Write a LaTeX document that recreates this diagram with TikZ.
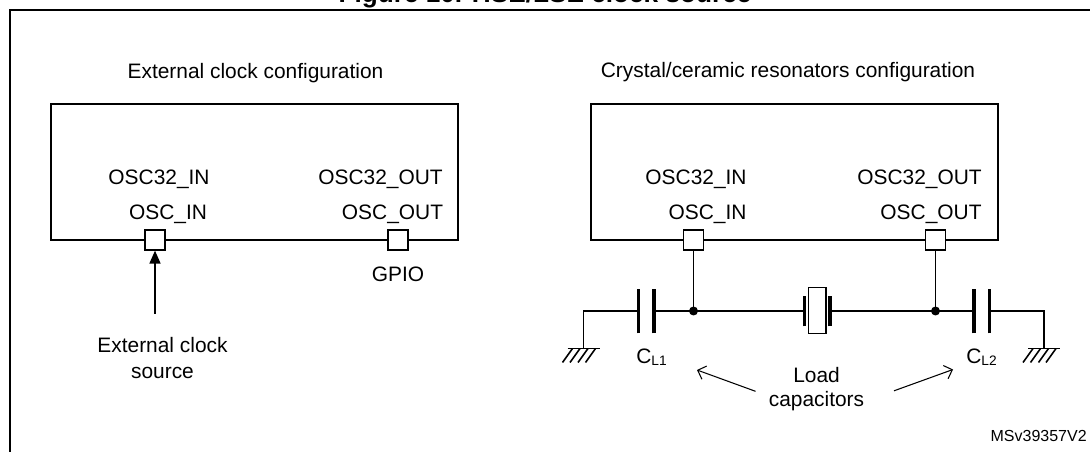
\documentclass[tikz,border=0pt]{standalone}
\usepackage{fontspec}
\setmainfont{Liberation Sans}
\usepackage{xcolor}
\usetikzlibrary{arrows.meta, positioning}

\begin{document}
\begin{tikzpicture}[>=Stealth,
    chip/.style={draw, line width=1.2pt, minimum width=8.14cm, minimum height=2.72cm, inner sep=0},
    padbox/.style={draw, fill=white, line width=0.7pt, minimum size=0.4cm, inner sep=0},
    wire/.style={line width=0.9pt},
    plate/.style={line width=1.8pt},
    lbl/.style={font=\fontsize{11.9}{14.8}\selectfont, inner sep=0}]
        \useasboundingbox (0,0) rectangle (21.8,9.04);
        
        % Frame and (cut) title
        \begin{scope}
            \clip (0,0) rectangle (21.8,9.04);
            \draw[line width=1.1pt] (0.2,0) -- (0.2,8.84) -- (21.8,8.84);
            \node[anchor=base, inner sep=0, font=\bfseries\fontsize{14.9}{16}\selectfont] (title) at (10.9,8.98) {Figure 10. HSE/LSE clock source};
        \end{scope}
        
        % External clock configuration
        \node[lbl, anchor=base] (exthead) at (5.11,7.47) {External clock configuration};
        \node[chip] (extmcu) at (5.09,5.6) {};
        \node[padbox] (extin) at (3.1,4.24) {};
        \node[padbox] (extout) at (7.96,4.24) {};
        \node[lbl, anchor=base] (extin32) at (3.18,5.35) {OSC32\_IN};
        \node[lbl, anchor=base] (extinhs) at (3.36,4.64) {OSC\_IN};
        \node[lbl, anchor=base] (extout32) at (7.61,5.35) {OSC32\_OUT};
        \node[lbl, anchor=base] (extouths) at (7.85,4.64) {OSC\_OUT};
        \node[lbl, anchor=base] (gpio) at (7.96,3.40) {GPIO};
        
        % Clock source
        \node[lbl, anchor=north, align=center] (clksrc) at (3.25,2.30) {External clock\\source};
        \coordinate (srcend) at (3.1,2.76);
        \draw[wire, -{Triangle[length=0.26cm, width=0.22cm]}] (srcend) -- (extin.south);
        
        % Crystal/ceramic resonators configuration
        \node[lbl, anchor=base] (xtalhead) at (15.76,7.48) {Crystal/ceramic resonators configuration};
        \node[chip] (xtalmcu) at (15.89,5.6) {};
        \node[padbox] (xin) at (13.87,4.24) {};
        \node[padbox] (xout) at (18.71,4.24) {};
        \node[lbl, anchor=base] (xin32) at (13.92,5.35) {OSC32\_IN};
        \node[lbl, anchor=base] (xinhs) at (14.15,4.64) {OSC\_IN};
        \node[lbl, anchor=base] (xout32) at (18.39,5.35) {OSC32\_OUT};
        \node[lbl, anchor=base] (xouths) at (18.62,4.64) {OSC\_OUT};
        
        % Junctions and grounds
        \coordinate (jin) at (13.87,2.82);
        \coordinate (jout) at (18.71,2.82);
        \coordinate (gnda) at (11.67,2.07);
        \coordinate (gndb) at (20.88,2.07);
        
        % Resonator
        \node[draw, line width=0.7pt, minimum width=0.35cm, minimum height=0.92cm, inner sep=0] (xtal) at (16.345,2.83) {};
        \draw[plate] (16.09,2.51) -- (16.09,3.11) (16.60,2.51) -- (16.60,3.11);
        
        % Load capacitors
        \draw[plate] (12.77,2.37) -- (12.77,3.25) (13.08,2.37) -- (13.08,3.25);
        \draw[plate] (19.48,2.37) -- (19.48,3.25) (19.79,2.37) -- (19.79,3.25);
        
        % Wires
        \draw[wire] (xin.south) -- (jin);
        \draw[wire] (xout.south) -- (jout);
        \draw[wire] (gnda) |- (12.77,2.82);
        \draw[wire] (13.08,2.82) -- (16.09,2.82);
        \draw[wire] (16.60,2.82) -- (19.48,2.82);
        \draw[wire] (19.79,2.82) -| (gndb);
        \fill (jin) circle (0.09) (jout) circle (0.09);
        
        % Ground hatching
        \foreach \g in {gnda, gndb} {
            \draw[wire] ([xshift=-0.32cm]\g) -- ([xshift=0.32cm]\g);
            \foreach \dx in {-0.22, -0.07, 0.09, 0.24}
                \draw[wire] ([xshift=\dx cm]\g) -- ++(-0.2,-0.28);
        }
        
        % Labels
        \node[lbl, anchor=base west] (cl1) at (12.72,1.76) {C\raisebox{-1pt}{\fontsize{7.8}{8}\selectfont L1}};
        \node[lbl, anchor=base west] (cl2) at (19.32,1.76) {C\raisebox{-1pt}{\fontsize{7.8}{8}\selectfont L2}};
        \node[lbl, anchor=north, align=center, font=\fontsize{11.9}{13.9}\selectfont] (loadtxt) at (16.33,1.71) {Load\\capacitors};
        \coordinate (tipa) at (13.94,1.64);
        \coordinate (tipb) at (19.06,1.65);
        \draw[line width=0.6pt, -{Straight Barb[length=4pt, width=8pt]}] ([xshift=-0.26cm, yshift=-0.05cm]loadtxt.west) -- (tipa);
        \draw[line width=0.6pt, -{Straight Barb[length=4pt, width=8pt]}] ([xshift=0.59cm, yshift=-0.04cm]loadtxt.east) -- (tipb);
        
        \node[anchor=base east, inner sep=0, font=\fontsize{9.1}{10}\selectfont] (figid) at (21.74,0.2) {MSv39357V2};
    \end{tikzpicture}
\end{document}
